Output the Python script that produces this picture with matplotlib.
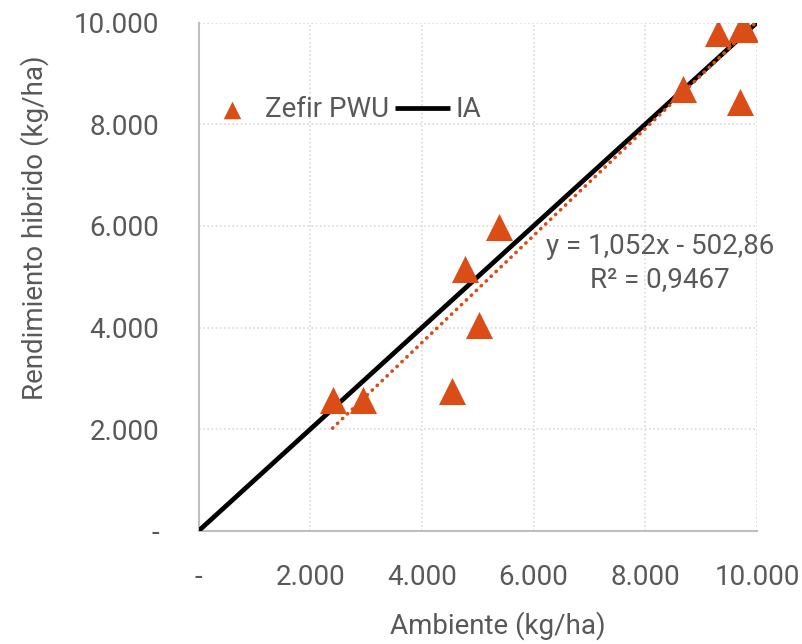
import numpy as np
import matplotlib.pyplot as plt
from matplotlib.ticker import FuncFormatter

# Data
ambiente = [2400, 2950, 4530, 4770, 5030, 5380, 8680, 9690, 9300, 9710, 9780]
hibrido = [2580, 2580, 2760, 5150, 4060, 5970, 8690, 8430, 9800, 9880, 9870]

# linear trendline as given by the label
slope = 1.052
intercept = -502.86
r2 = 0.9467

ia_line = [0, 10000]
ticks = [0, 2000, 4000, 6000, 8000, 10000]

orange = "#DA4D16"
grey_txt = "#595959"

plt.rcParams["font.family"] = ["Roboto", "DejaVu Sans"]

fig = plt.figure(figsize=(8.02, 6.44), dpi=100)
ax = fig.add_axes([198.5 / 802, 1 - 531 / 644, (757 - 198.5) / 802, (531 - 22.5) / 644])

# 1:1 line
ax.plot(ia_line, ia_line, color="black", lw=3.4, zorder=3, label="IA",
        solid_capstyle="butt")
ax.scatter(ambiente, hibrido, marker="^", s=19.5 ** 2, color=orange,
           zorder=4, label="Zefir PWU", linewidths=0)

# trendline (Excel-style dotted)
tx = np.array([min(ambiente), 10000])
ax.plot(tx, slope * tx + intercept, color=orange, lw=2.6,
        linestyle=(0, (0.1, 1.8)), dash_capstyle="round", zorder=5)

ax.text(8263, 5270, "y = 1,052x - 502,86\nR² = 0,9467", ha="center", va="center",
        multialignment="center", fontsize=20, color=grey_txt, linespacing=1.3,
        zorder=6)

ax.set_xlim(0, 10000)
ax.set_ylim(0, 10000)
ax.set_xticks(ticks)
ax.set_yticks(ticks)


def fmt(v, pos):
    if v == 0:
        return "-"
    return f"{int(v):,}".replace(",", ".")


ax.xaxis.set_major_formatter(FuncFormatter(fmt))
ax.yaxis.set_major_formatter(FuncFormatter(fmt))
ax.tick_params(axis="both", length=0, labelsize=20, labelcolor=grey_txt)
ax.tick_params(axis="y", pad=28)
ax.tick_params(axis="x", pad=24)

ax.grid(True, color="#d9d9d9", linestyle=(0, (1, 1.5)), lw=1.2)
ax.set_axisbelow(True)
for side in ["top", "right"]:
    ax.spines[side].set_visible(False)
for side in ["left", "bottom"]:
    ax.spines[side].set_color("#bfbfbf")
    ax.spines[side].set_linewidth(1.5)

handles, labels = ax.get_legend_handles_labels()
order = [labels.index("Zefir PWU"), labels.index("IA")]
leg = ax.legend([handles[i] for i in order], [labels[i] for i in order],
                ncol=2, loc="center left", bbox_to_anchor=(0.01, 0.828),
                frameon=False, fontsize=20, labelcolor=grey_txt,
                handlelength=2.0, handletextpad=0.2, columnspacing=0.2,
                borderpad=0, borderaxespad=0, markerscale=0.65)

fig.text(498 / 802, 1 - 626 / 644, "Ambiente (kg/ha)", ha="center", va="center",
         fontsize=20, color=grey_txt)
fig.text(35 / 802, 1 - 228 / 644, "Rendimiento hibrido (kg/ha)", ha="center",
         va="center", rotation=90, fontsize=20, color=grey_txt)

fig.savefig("out.png", dpi=100)
